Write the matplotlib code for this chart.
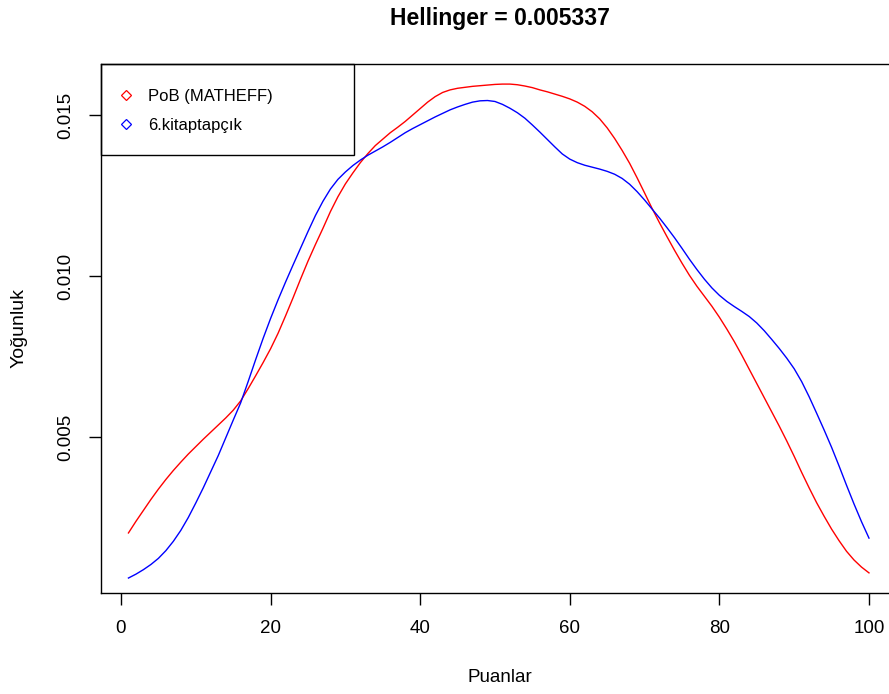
import matplotlib
matplotlib.use("Agg")
import matplotlib.pyplot as plt
from matplotlib.lines import Line2D
from matplotlib.patches import Rectangle

plt.rcParams['font.family'] = ['Liberation Sans', 'DejaVu Sans']

# ---- data (one value per score point 1..100) ----
puan = list(range(1, 101))
pob = [0.00202, 0.00238, 0.00272, 0.00306, 0.00338, 0.00368, 0.00396, 0.00422, 0.00447, 0.00470,
       0.00493, 0.00515, 0.00537, 0.00559, 0.00583, 0.00612, 0.00650, 0.00690, 0.00731, 0.00774,
       0.00822, 0.00876, 0.00932, 0.00990, 0.01046, 0.01098, 0.01148, 0.01200, 0.01246, 0.01286,
       0.01320, 0.01352, 0.01380, 0.01405, 0.01425, 0.01445, 0.01462, 0.01480, 0.01500, 0.01520,
       0.01540, 0.01557, 0.01570, 0.01578, 0.01583, 0.01586, 0.01589, 0.01591, 0.01593, 0.01595,
       0.01596, 0.01596, 0.01594, 0.01590, 0.01585, 0.01578, 0.01572, 0.01565, 0.01558, 0.01550,
       0.01540, 0.01527, 0.01510, 0.01488, 0.01460, 0.01427, 0.01390, 0.01350, 0.01305, 0.01258,
       0.01210, 0.01165, 0.01122, 0.01080, 0.01040, 0.01002, 0.00968, 0.00937, 0.00906, 0.00872,
       0.00835, 0.00796, 0.00754, 0.00710, 0.00666, 0.00622, 0.00578, 0.00534, 0.00488, 0.00440,
       0.00390, 0.00342, 0.00296, 0.00254, 0.00214, 0.00178, 0.00145, 0.00118, 0.00096, 0.00078]
kitap = [0.00062, 0.00074, 0.00088, 0.00104, 0.00123, 0.00147, 0.00176, 0.00210, 0.00250, 0.00295,
         0.00342, 0.00392, 0.00442, 0.00497, 0.00552, 0.00606, 0.00672, 0.00740, 0.00806, 0.00868,
         0.00926, 0.00981, 0.01034, 0.01086, 0.01138, 0.01188, 0.01232, 0.01270, 0.01300, 0.01323,
         0.01343, 0.01360, 0.01375, 0.01388, 0.01401, 0.01415, 0.01430, 0.01445, 0.01458, 0.01470,
         0.01482, 0.01494, 0.01505, 0.01516, 0.01525, 0.01533, 0.01540, 0.01544, 0.01545, 0.01542,
         0.01533, 0.01521, 0.01507, 0.01490, 0.01469, 0.01447, 0.01424, 0.01401, 0.01379, 0.01363,
         0.01352, 0.01344, 0.01338, 0.01332, 0.01325, 0.01316, 0.01303, 0.01285, 0.01262, 0.01236,
         0.01208, 0.01180, 0.01150, 0.01119, 0.01086, 0.01052, 0.01020, 0.00990, 0.00963, 0.00940,
         0.00921, 0.00905, 0.00890, 0.00874, 0.00854, 0.00830, 0.00803, 0.00775, 0.00745, 0.00712,
         0.00672, 0.00625, 0.00574, 0.00522, 0.00468, 0.00410, 0.00350, 0.00292, 0.00237, 0.00186]
series_names = ["PoB (MATHEFF)", "6.kitaptapçık"]
series_colors = ["#FF0000", "#0000FF"]
x_ticks = [0, 20, 40, 60, 80, 100]
y_ticks = [0.005, 0.010, 0.015]
y_ticklabels = ["0.005", "0.010", "0.015"]
title = "Hellinger = 0.005337"

W, H = 889, 694
fig = plt.figure(figsize=(W / 100, H / 100), dpi=100)
left, right, top, bottom = 101, 898.6, 64, 593
ax = fig.add_axes([left / W, (H - bottom) / H, (right - left) / W, (bottom - top) / H])

ax.plot(puan, pob, color=series_colors[0], lw=1.0)
ax.plot(puan, kitap, color=series_colors[1], lw=1.0)

ax.set_xlim(-2.67, 103.96)
ax.set_ylim(0.000155, 0.016584)

ax.set_xticks(x_ticks)
ax.set_xticklabels([str(v) for v in x_ticks])
ax.set_yticks(y_ticks)
ax.set_yticklabels(y_ticklabels, rotation=90, va='center')
ax.tick_params(axis='both', direction='out', length=8.6, width=1.0, labelsize=13.5, pad=11)

for s in ax.spines.values():
    s.set_linewidth(1.0)
    s.set_color('black')

ax.set_xlabel("Puanlar", fontsize=13.5)
ax.xaxis.set_label_coords(0.5, (bottom - 677) / (bottom - top))
ax.xaxis.label.set_va('center')
ax.set_ylabel("Yoğunluk", fontsize=14)
ax.yaxis.set_label_coords((19 - left) / (right - left), 0.5)
ax.yaxis.label.set_va('center')

ax.text(0.5, (bottom - 18) / (bottom - top), title, transform=ax.transAxes,
        ha='center', va='center', fontsize=16.5, fontweight='bold')

# legend
handles = [Line2D([], [], ls='none', marker='D', markersize=5.5, markerfacecolor='none',
                  markeredgecolor=c, markeredgewidth=0.9) for c in series_colors]
leg = ax.legend(handles, series_names, loc='upper left',
                bbox_to_anchor=((117.5 - left) / (right - left), (bottom - 89) / (bottom - top)),
                frameon=False, fontsize=12, handlelength=1.0, handletextpad=0.85,
                labelspacing=0.85, borderpad=0, borderaxespad=0)
ax.add_patch(Rectangle((0, (bottom - 155) / (bottom - top)), (354 - left) / (right - left),
                       1 - (bottom - 155) / (bottom - top), transform=ax.transAxes,
                       fill=False, edgecolor='black', lw=1.0, clip_on=False))

fig.savefig("out.png", dpi=100)
